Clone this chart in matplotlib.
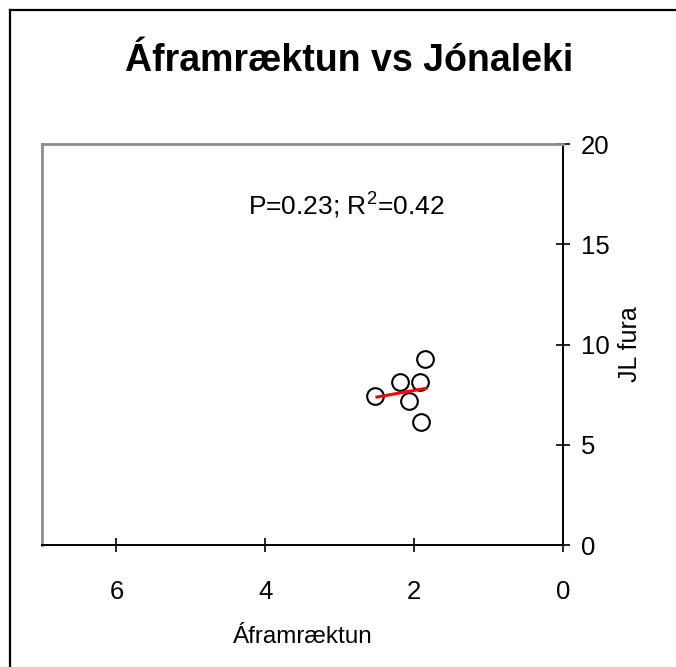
import matplotlib
matplotlib.use("Agg")
import matplotlib.pyplot as plt
from matplotlib.lines import Line2D

plt.rcParams['font.family'] = ['Liberation Sans', 'DejaVu Sans']
plt.rcParams['mathtext.fontset'] = 'custom'
plt.rcParams['mathtext.rm'] = 'Liberation Sans'
plt.rcParams['mathtext.it'] = 'Liberation Sans'

# data
afram = [2.52, 2.19, 2.07, 1.92, 1.85, 1.91]
jl_fura = [7.42, 8.13, 7.20, 8.13, 9.28, 6.13]
fit_x = [2.50, 1.85]
fit_y = [7.38, 7.81]
xticks = [6, 4, 2, 0]
yticks = [0, 5, 10, 15, 20]

fig = plt.figure(figsize=(6.76, 6.67), dpi=100)
ax = fig.add_axes([0.0621, 0.1829, 0.7707, 0.6012])

ax.plot(afram, jl_fura, 'o', ms=12, mfc='white', mec='black', mew=1.5, zorder=3)
ax.plot(fit_x, fit_y, color='red', lw=2.2, zorder=4)

ax.set_xlim(7, 0)
ax.set_ylim(0, 20)
ax.set_xticks(xticks)
ax.set_yticks(yticks)

ax.yaxis.tick_right()
ax.yaxis.set_label_position('right')
ax.tick_params(axis='both', direction='inout', length=10, width=1.2, labelsize=18.5)
ax.tick_params(axis='x', pad=20)
ax.tick_params(axis='y', pad=8)

for s in ['left', 'top']:
    ax.spines[s].set_color('#8c8c8c')
    ax.spines[s].set_linewidth(2)
for s in ['right', 'bottom']:
    ax.spines[s].set_color('black')
    ax.spines[s].set_linewidth(1.4)

ax.set_xlabel('Áframræktun', fontsize=17.5, labelpad=16)
ax.set_ylabel('JL fura', fontsize=18, labelpad=6)

ax.text(2.91, 16.9, 'P=0.23; R$^2$=0.42', fontsize=19, ha='center', va='center')

fig.text(0.516, 0.908, 'Áframræktun vs Jónaleki', fontsize=27, fontweight='bold',
         ha='center', va='center')

# outer frame (only top and left edges show)
fig.add_artist(Line2D([10 / 676, 10 / 676], [0, 1 - 10 / 667], color='black', lw=1.6,
                      transform=fig.transFigure))
fig.add_artist(Line2D([10 / 676, 1], [1 - 10 / 667, 1 - 10 / 667], color='black', lw=1.6,
                      transform=fig.transFigure))

fig.savefig('out.png', dpi=100)
